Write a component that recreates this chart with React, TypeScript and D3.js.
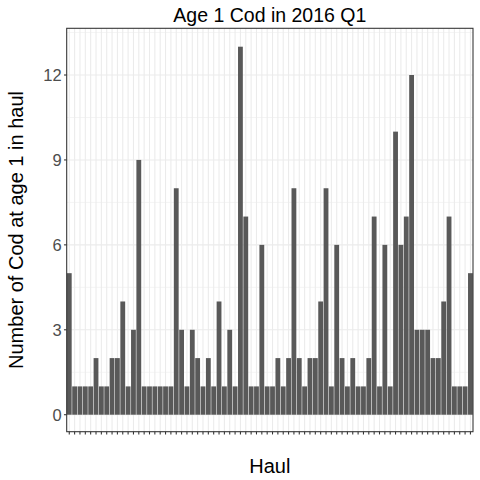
import React from 'react';
import * as d3 from 'd3';

// Number of age 1 cod per haul, 2016 Q1
const counts: number[] = [
  5, 1, 1, 1, 1, 2, 1, 1, 2, 2, 4, 1, 3, 9, 1, 1, 1, 1, 1, 1,
  8, 3, 1, 3, 2, 1, 2, 1, 4, 1, 3, 1, 13, 7, 1, 1, 6, 1, 1, 2,
  1, 2, 8, 2, 1, 2, 2, 4, 8, 1, 6, 2, 1, 2, 1, 1, 2, 7, 1, 6,
  1, 10, 6, 7, 12, 3, 3, 3, 2, 2, 4, 7, 1, 1, 1, 5,
];
const hauls: string[] = counts.map((_, i) => `H${i + 1}`);
const yTicks: number[] = [0, 3, 6, 9, 12];
const yMinor: number[] = [1.5, 4.5, 7.5, 10.5, 13.5];

const title = 'Age 1 Cod in 2016 Q1';
const xTitle = 'Haul';
const yTitle = 'Number of Cod at age 1 in haul';

const width = 480;
const height = 480;
const panel = { left: 66.7, right: 473, top: 28.3, bottom: 431.7 };
const font = '"Liberation Sans", Arial, sans-serif';

const App: React.FC = () => {
  const x = d3.scaleBand<string>()
    .domain(hauls)
    .range([panel.left, panel.right])
    .paddingInner(0.1)
    .paddingOuter(0.03);

  const y = d3.scaleLinear()
    .domain([-0.6, 13.65])
    .range([panel.bottom, panel.top]);

  const pw = panel.right - panel.left;
  const ph = panel.bottom - panel.top;
  const cx = (panel.left + panel.right) / 2;
  const cy = (panel.top + panel.bottom) / 2;

  return (
    <svg
      width={width}
      height={height}
      style={{ position: 'absolute', left: 0, top: 0, background: '#fff' }}
      fontFamily={font}
    >
      <rect x={0} y={0} width={width} height={height} fill="#fff" />

      {/* panel background + grid */}
      <rect x={panel.left} y={panel.top} width={pw} height={ph} fill="#fff" />
      {yMinor.map(v => (
        <line key={`mi-${v}`} x1={panel.left} x2={panel.right} y1={y(v)} y2={y(v)}
          stroke="#ebebeb" strokeWidth={0.55} />
      ))}
      {yTicks.map(v => (
        <line key={`ma-${v}`} x1={panel.left} x2={panel.right} y1={y(v)} y2={y(v)}
          stroke="#ebebeb" strokeWidth={1.07} />
      ))}
      {hauls.map(h => {
        const xc = x(h)! + x.bandwidth() / 2;
        return (
          <line key={`vg-${h}`} x1={xc} x2={xc} y1={panel.top} y2={panel.bottom}
            stroke="#ebebeb" strokeWidth={1.07} />
        );
      })}

      {/* bars */}
      {counts.map((c, i) => (
        <rect
          key={hauls[i]}
          x={x(hauls[i])}
          y={y(c)}
          width={x.bandwidth()}
          height={y(0) - y(c)}
          fill="#595959"
        />
      ))}

      {/* panel border */}
      <rect x={panel.left} y={panel.top} width={pw} height={ph}
        fill="none" stroke="#333333" strokeWidth={1.07} />

      {/* x axis ticks (no labels) */}
      {hauls.map(h => {
        const xc = x(h)! + x.bandwidth() / 2;
        return (
          <line key={`xt-${h}`} x1={xc} x2={xc} y1={panel.bottom} y2={panel.bottom + 2.75}
            stroke="#333333" strokeWidth={1.07} />
        );
      })}

      {/* y axis */}
      {yTicks.map(v => (
        <g key={`yt-${v}`} transform={`translate(0, ${y(v)})`}>
          <line x1={panel.left - 2.75} x2={panel.left} stroke="#333333" strokeWidth={1.07} />
          <text x={panel.left - 5} dy="0.36em" textAnchor="end" fill="#4d4d4d" fontSize="16.5px">
            {v}
          </text>
        </g>
      ))}

      {/* titles */}
      <text x={cx} y={21.7} textAnchor="middle" fontSize="19.5px" fill="#000">
        {title}
      </text>
      <text x={cx} y={472.7} textAnchor="middle" fontSize="20px" fill="#000">
        {xTitle}
      </text>
      <text
        transform={`translate(22.5, ${cy}) rotate(-90)`}
        textAnchor="middle"
        fontSize="20px"
        fill="#000"
      >
        {yTitle}
      </text>
    </svg>
  );
};

export default App;
